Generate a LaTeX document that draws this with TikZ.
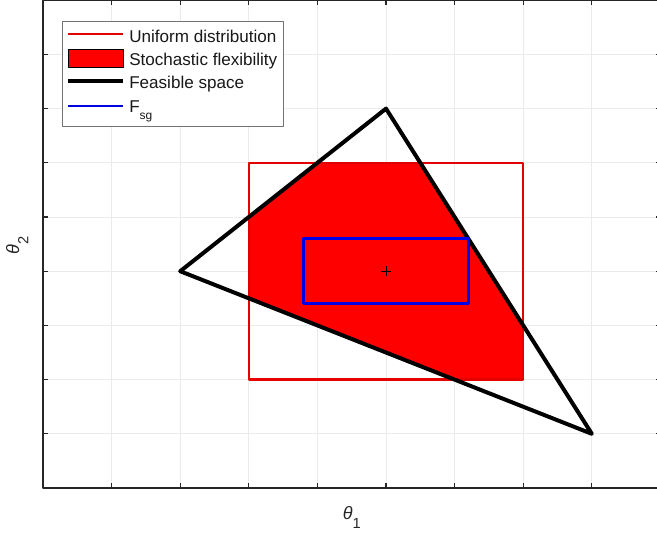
\documentclass[tikz,border=0pt]{standalone}
\usepackage{fontspec}
\setmainfont{Liberation Sans}

\begin{document}
\begin{tikzpicture}[x=51.45pt,y=40.65pt,line join=round,
  axisline/.style={black!85,line width=0.9pt},
  gridline/.style={black!8,line width=0.5pt},
  legtext/.style={anchor=base west,inner sep=0pt,text=black!90,
    font=\fontsize{12.8}{14}\selectfont},
  axlabel/.style={anchor=base,inner sep=0pt,text=black!85,
    font=\fontsize{13.5}{14}\selectfont}]
\def\tx{0.066}
\def\ty{0.084}
\useasboundingbox (-0.627,-0.849) rectangle (8.950,9.004);
\clip (-0.627,-0.849) rectangle (8.950,9.004);
% 网格
\foreach \i in {1,...,8}{
  \draw[gridline] (\i,0) -- (\i,9);
  \draw[gridline] (0,\i) -- (9,\i);
}
% 可行域三角形顶点
\coordinate (feasA) at (2,4);
\coordinate (feasB) at (5,7);
\coordinate (feasC) at (8,1);
% 随机灵活性 = 三角形 ∩ 均匀分布矩形
\begin{scope}
  \clip (feasA) -- (feasB) -- (feasC) -- cycle;
  \fill[red] (3,2) rectangle (7,6);
\end{scope}
\draw[red!90!black,line width=1.8pt] (3,2) rectangle (7,6);
\draw[line width=3pt] (feasA) -- (feasB) -- (feasC) -- cycle;
\draw[blue!90!black,line width=2pt] (3.8,3.4) rectangle (6.2,4.6);
% 中心点 +
\coordinate (centre) at (5,4);
\draw[line width=0.5pt] (centre) +(-0.07,0) -- +(0.07,0)
  (centre) +(0,-0.09) -- +(0,0.09);
% 坐标框与刻度
\draw[axisline] (0,0) rectangle (9,9);
\foreach \i in {1,...,8}{
  \draw[axisline] (\i,0) -- (\i,\ty);
  \draw[axisline] (\i,9) -- (\i,9-\ty);
  \draw[axisline] (0,\i) -- (\tx,\i);
  \draw[axisline] (9,\i) -- (9-\tx,\i);
}
% 坐标轴标签
\node[axlabel] (xlab) at (4.5,-0.572)
  {\itshape θ\upshape\raisebox{-7pt}{\fontsize{11}{12}\selectfont 1}};
\node[axlabel,rotate=90] (ylab) at (-0.35,4.48)
  {\itshape θ\upshape\raisebox{-7pt}{\fontsize{11}{12}\selectfont 2}};
% 图例
\draw[black!55,fill=white,line width=0.5pt] (0.277,6.679) rectangle (3.499,8.616);
\coordinate (legL) at (0.364,0);
\coordinate (legR) at (1.166,0);
\draw[red!90!black,line width=1.6pt] (legL |- 0,8.376) -- (legR |- 0,8.376);
\draw[fill=red,line width=0.6pt] (legL |- 0,8.100) rectangle (legR |- 0,7.768);
\draw[line width=2.5pt] (legL |- 0,7.509) -- (legR |- 0,7.509);
\draw[blue!90!black,line width=1.6pt] (legL |- 0,7.048) -- (legR |- 0,7.048);
\node[legtext] (legUni) at (1.254,8.216) {Uniform distribution};
\node[legtext] (legSto) at (1.254,7.795) {Stochastic flexibility};
\node[legtext] (legFea) at (1.254,7.376) {Feasible space};
\node[legtext] (legFsg) at (1.254,6.930)
  {F\raisebox{-5pt}{\fontsize{9}{10}\selectfont sg}};
\end{tikzpicture}
\end{document}
